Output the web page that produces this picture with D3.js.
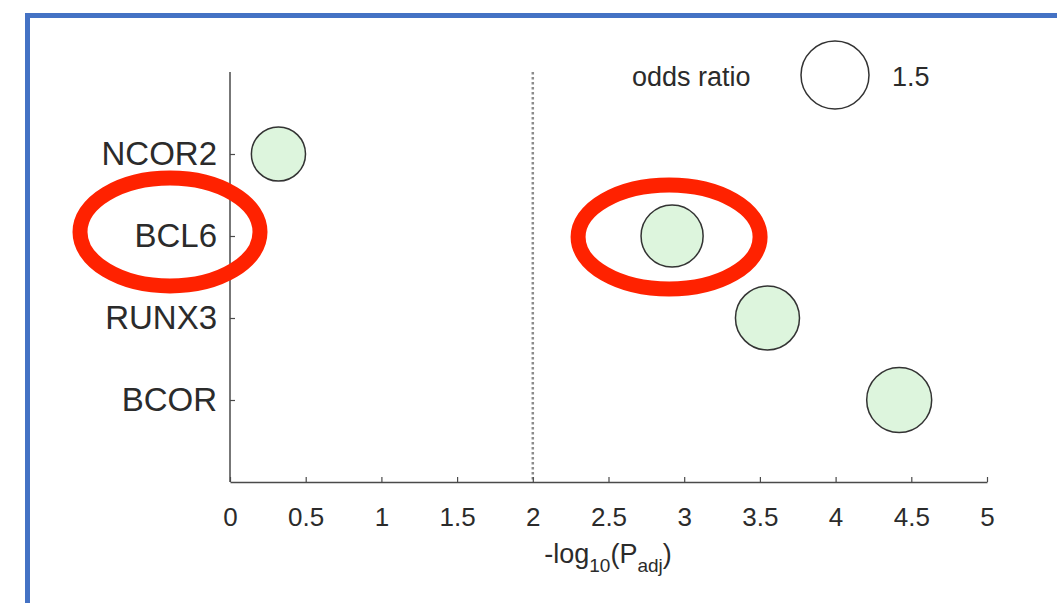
<!DOCTYPE html>
<html lang="en">
<head>
  <meta charset="UTF-8">
  <script src="https://d3js.org/d3.v7.min.js"></script>
  <title>odds ratio plot</title>
  <style>
    body { margin: 0; background: #fff; }
    svg { display: block; font-family: "Liberation Sans", Arial, sans-serif; }
  </style>
</head>
<body>
  <svg width="1057" height="603"></svg>
  <script>
    // data
    const genes = ["NCOR2", "BCL6", "RUNX3", "BCOR"];
    const negLogP = [0.32, 2.92, 3.55, 4.42];
    const oddsRatio = [0.95, 1.25, 1.33, 1.37];
    const xTicks = [0, 0.5, 1, 1.5, 2, 2.5, 3, 3.5, 4, 4.5, 5];
    const threshold = 2;
    const legendOR = 1.5;
    const highlighted = "BCL6";

    const points = genes.map((g, i) => ({gene: g, p: negLogP[i], or: oddsRatio[i]}));

    const svg = d3.select("svg");
    const axisColor = "#4a4a4a";
    const textColor = "#2b2b2b";

    // frame of the slide (top + left blue line)
    svg.append("path")
      .attr("d", "M27.5,603V15.5H1057")
      .attr("fill", "none")
      .attr("stroke", "#4472c4")
      .attr("stroke-width", 5);

    const x = d3.scaleLinear().domain([0, 5]).range([230, 987]);
    const y = d3.scalePoint().domain(genes).range([72, 482]).padding(1);
    const r = d3.scaleSqrt().domain([0, legendOR]).range([0, 34]);

    // dotted threshold line
    svg.append("line")
      .attr("x1", x(threshold)).attr("x2", x(threshold))
      .attr("y1", 72).attr("y2", 482)
      .attr("stroke", "#8c8c8c")
      .attr("stroke-width", 2.5)
      .attr("stroke-dasharray", "2.5,2.5");

    // axes, matlab style ticks pointing in
    const xAxis = d3.axisBottom(x).tickValues(xTicks).tickSizeInner(-5).tickSizeOuter(0)
      .tickPadding(26).tickFormat(d3.format("~g"));
    const xG = svg.append("g").attr("transform", "translate(0,482)").call(xAxis);

    const yAxis = d3.axisLeft(y).tickSizeInner(-5).tickSizeOuter(0).tickPadding(13);
    const yG = svg.append("g").attr("transform", "translate(230,0)").call(yAxis);
    yG.select(".domain").attr("d", "M0,72V482");

    [xG, yG].forEach(g => {
      g.select(".domain").attr("stroke", axisColor).attr("stroke-width", 1.5);
      g.selectAll(".tick line").attr("stroke", axisColor).attr("stroke-width", 1.2);
      g.selectAll(".tick text").attr("fill", textColor).attr("font-family", "Liberation Sans, Arial, sans-serif");
    });
    xG.selectAll(".tick text").attr("font-size", 26);
    yG.selectAll(".tick text").attr("font-size", 33);

    // x label  -log10(Padj)
    const xl = svg.append("text")
      .attr("x", 608).attr("y", 563)
      .attr("text-anchor", "middle")
      .attr("fill", textColor)
      .attr("font-size", 27);
    xl.append("tspan").text("-log");
    xl.append("tspan").attr("font-size", 19).attr("dy", 9).text("10");
    xl.append("tspan").attr("dy", -9).text("(P");
    xl.append("tspan").attr("font-size", 19).attr("dy", 9).text("adj");
    xl.append("tspan").attr("dy", -9).text(")");

    // bubbles
    svg.selectAll("circle.pt")
      .data(points)
      .enter()
      .append("circle")
      .attr("class", "pt")
      .attr("cx", d => x(d.p))
      .attr("cy", d => y(d.gene))
      .attr("r", d => r(d.or))
      .attr("fill", "#ddf5dd")
      .attr("stroke", "#333")
      .attr("stroke-width", 1.5);

    // legend
    svg.append("text")
      .attr("x", 632).attr("y", 86)
      .attr("fill", textColor)
      .attr("font-size", 27)
      .text("odds ratio");
    svg.append("circle")
      .attr("cx", 835).attr("cy", 75)
      .attr("r", r(legendOR))
      .attr("fill", "none")
      .attr("stroke", "#333")
      .attr("stroke-width", 1.5);
    svg.append("text")
      .attr("x", 892).attr("y", 86)
      .attr("fill", textColor)
      .attr("font-size", 27)
      .text(d3.format(".1f")(legendOR));

    // red annotation rings around BCL6
    const hp = points.find(d => d.gene === highlighted);
    const rings = [
      {cx: x(0) - 60, cy: y(highlighted) - 4, rx: 90, ry: 54},
      {cx: x(hp.p) - 3, cy: y(highlighted) + 1, rx: 91, ry: 52}
    ];
    svg.selectAll("ellipse.ring")
      .data(rings)
      .enter()
      .append("ellipse")
      .attr("class", "ring")
      .attr("cx", d => d.cx).attr("cy", d => d.cy)
      .attr("rx", d => d.rx).attr("ry", d => d.ry)
      .attr("fill", "none")
      .attr("stroke", "#ff2200")
      .attr("stroke-width", 15);
  </script>
</body>
</html>
